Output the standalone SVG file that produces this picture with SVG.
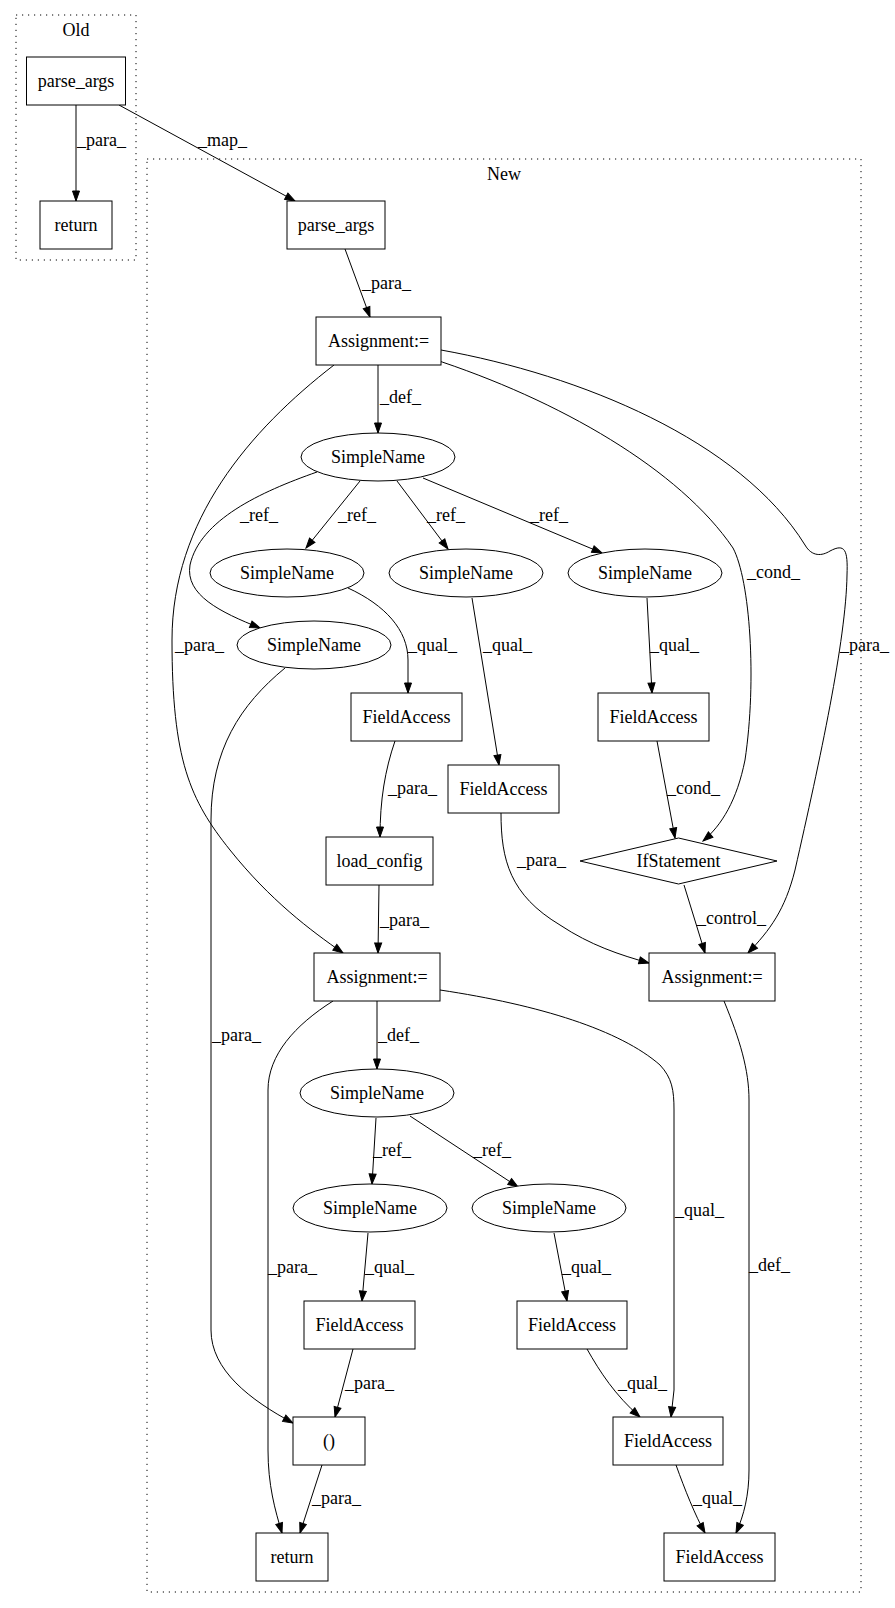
<svg xmlns="http://www.w3.org/2000/svg" width="895" height="1608" viewBox="0 0 895 1608" font-family="'Liberation Serif', 'Times New Roman', serif" font-size="18">
<style>
text{font-family:"Liberation Serif","Times New Roman",serif;font-size:18px;fill:#000}
.n{text-anchor:middle}
.box{fill:#fff;stroke:#000;stroke-width:1}
.cl{fill:none;stroke:#000;stroke-width:1;stroke-dasharray:1.2,4.8}
.e{fill:none;stroke:#000;stroke-width:1;marker-end:url(#arr)}
</style>
<defs>
<marker id="arr" markerUnits="userSpaceOnUse" markerWidth="12" markerHeight="9" refX="11" refY="4.5" orient="auto">
<path d="M1,1 L11,4.5 L1,8 z" fill="#000" stroke="#000" stroke-width="1"/>
</marker>
</defs>
<rect width="895" height="1608" fill="#fff"/>
<g id="cluster_old">
<rect class="cl" x="16" y="15" width="120" height="245"/>
<text class="n" x="76" y="36">Old</text>
</g>
<g id="cluster_new">
<rect class="cl" x="147" y="159" width="714" height="1433"/>
<text class="n" x="504" y="180">New</text>
</g>
<g id="connectors">
<path class="e" d="M76,105 L76,201"/>
<text x="77" y="146">_para_</text>
<path class="e" d="M119,105 L295,201"/>
<text x="198" y="146">_map_</text>
<path class="e" d="M345,249 L370,317"/>
<text x="362" y="289">_para_</text>
<path class="e" d="M378,365 L378,433"/>
<text x="380" y="403">_def_</text>
<path class="e" d="M334,365 C250,430 172,520 172,640 C172,760 190,800 230,850 C270,900 310,930 343,953"/>
<text x="175" y="651">_para_</text>
<path class="e" d="M430,358 C560,400 680,470 733,548 C750,580 757,680 745,760 C737,800 722,825 703,841"/>
<text x="747" y="578">_cond_</text>
<path class="e" d="M441,350 C580,375 740,440 805,545 C812,557 822,556 830,551 C845,543 848,550 847,575 C846,640 820,760 795,870 C785,910 770,930 748,953"/>
<text x="840" y="651">_para_</text>
<path class="e" d="M360,481 L306,548"/>
<text x="338" y="521">_ref_</text>
<path class="e" d="M397,481 L448,549"/>
<text x="427" y="521">_ref_</text>
<path class="e" d="M423,478 L602,553"/>
<text x="530" y="521">_ref_</text>
<path class="e" d="M317,472 C260,492 200,520 190,565 C185,595 220,612 260,628"/>
<text x="240" y="521">_ref_</text>
<path class="e" d="M348,588 C385,605 408,630 408,660 L408,693"/>
<text x="408" y="651">_qual_</text>
<path class="e" d="M472,598 L499,765"/>
<text x="483" y="651">_qual_</text>
<path class="e" d="M647,598 L652,693"/>
<text x="650" y="651">_qual_</text>
<path class="e" d="M285,668 C240,705 211,750 211,820 L211,1330 C211,1370 250,1400 293,1423"/>
<text x="212" y="1041">_para_</text>
<path class="e" d="M395,741 C385,770 380,800 380,837"/>
<text x="388" y="794">_para_</text>
<path class="e" d="M501,813 C501,860 510,895 560,925 C590,945 620,955 649,963"/>
<text x="517" y="866">_para_</text>
<path class="e" d="M657,741 L675,838"/>
<text x="667" y="794">_cond_</text>
<path class="e" d="M684,885 L705,953"/>
<text x="697" y="924">_control_</text>
<path class="e" d="M379,885 L378,953"/>
<text x="380" y="926">_para_</text>
<path class="e" d="M377,1001 L377,1069"/>
<text x="378" y="1041">_def_</text>
<path class="e" d="M333,1001 C295,1025 268,1055 268,1090 L268,1450 C268,1485 275,1510 282,1533"/>
<text x="268" y="1273">_para_</text>
<path class="e" d="M440,990 C540,1005 620,1030 660,1065 C672,1078 674,1090 674,1110 L674,1390 L671,1417"/>
<text x="675" y="1216">_qual_</text>
<path class="e" d="M724,1001 C740,1040 749,1070 749,1100 L749,1470 C749,1495 744,1515 736,1533"/>
<text x="749" y="1271">_def_</text>
<path class="e" d="M376,1118 L372,1184"/>
<text x="373" y="1156">_ref_</text>
<path class="e" d="M410,1116 L518,1187"/>
<text x="473" y="1156">_ref_</text>
<path class="e" d="M368,1233 L362,1301"/>
<text x="365" y="1273">_qual_</text>
<path class="e" d="M554,1233 L567,1301"/>
<text x="562" y="1273">_qual_</text>
<path class="e" d="M353,1349 L335,1417"/>
<text x="345" y="1389">_para_</text>
<path class="e" d="M322,1465 L300,1533"/>
<text x="312" y="1504">_para_</text>
<path class="e" d="M587,1349 C600,1372 615,1395 640,1417"/>
<text x="618" y="1389">_qual_</text>
<path class="e" d="M676,1465 C685,1490 695,1515 705,1533"/>
<text x="693" y="1504">_qual_</text>
</g>
<g id="old_parse_args"><rect class="box" x="26.5" y="57" width="99" height="48"/><text class="n" x="76" y="87">parse_args</text></g>
<g id="old_return"><rect class="box" x="40" y="201" width="72" height="48"/><text class="n" x="76" y="231">return</text></g>
<g id="new_parse_args"><rect class="box" x="287" y="201" width="98" height="48"/><text class="n" x="336" y="231">parse_args</text></g>
<g id="assign1"><rect class="box" x="316" y="317" width="125" height="48"/><text class="n" x="378.5" y="347">Assignment:=</text></g>
<g id="sn_top"><ellipse class="box" cx="378" cy="457" rx="77" ry="24"/><text class="n" x="378" y="463">SimpleName</text></g>
<g id="sn_a"><ellipse class="box" cx="287" cy="573" rx="77" ry="24"/><text class="n" x="287" y="579">SimpleName</text></g>
<g id="sn_b"><ellipse class="box" cx="466" cy="573" rx="77" ry="24"/><text class="n" x="466" y="579">SimpleName</text></g>
<g id="sn_d"><ellipse class="box" cx="645" cy="573" rx="77" ry="24"/><text class="n" x="645" y="579">SimpleName</text></g>
<g id="sn_c"><ellipse class="box" cx="314" cy="645" rx="77" ry="24"/><text class="n" x="314" y="651">SimpleName</text></g>
<g id="fa_a"><rect class="box" x="351" y="693" width="111" height="48"/><text class="n" x="406.5" y="723">FieldAccess</text></g>
<g id="fa_b"><rect class="box" x="448" y="765" width="111" height="48"/><text class="n" x="503.5" y="795">FieldAccess</text></g>
<g id="fa_c"><rect class="box" x="598" y="693" width="111" height="48"/><text class="n" x="653.5" y="723">FieldAccess</text></g>
<g id="if_stmt"><polygon class="box" points="678.5,838 777,861 678.5,884 580,861"/><text class="n" x="678.5" y="867">IfStatement</text></g>
<g id="load_config"><rect class="box" x="326" y="837" width="107" height="48"/><text class="n" x="379.5" y="867">load_config</text></g>
<g id="assign2"><rect class="box" x="314" y="953" width="126" height="48"/><text class="n" x="377" y="983">Assignment:=</text></g>
<g id="assign3"><rect class="box" x="649" y="953" width="126" height="48"/><text class="n" x="712" y="983">Assignment:=</text></g>
<g id="sn_e"><ellipse class="box" cx="377" cy="1093" rx="77" ry="24"/><text class="n" x="377" y="1099">SimpleName</text></g>
<g id="sn_f"><ellipse class="box" cx="370" cy="1208" rx="77" ry="24"/><text class="n" x="370" y="1214">SimpleName</text></g>
<g id="sn_g"><ellipse class="box" cx="549" cy="1208" rx="77" ry="24"/><text class="n" x="549" y="1214">SimpleName</text></g>
<g id="fa_d"><rect class="box" x="304" y="1301" width="111" height="48"/><text class="n" x="359.5" y="1331">FieldAccess</text></g>
<g id="fa_g"><rect class="box" x="517" y="1301" width="110" height="48"/><text class="n" x="572" y="1331">FieldAccess</text></g>
<g id="paren"><rect class="box" x="293" y="1417" width="72" height="48"/><text class="n" x="329" y="1447">()</text></g>
<g id="fa_h"><rect class="box" x="613" y="1417" width="110" height="48"/><text class="n" x="668" y="1447">FieldAccess</text></g>
<g id="new_return"><rect class="box" x="256" y="1533" width="72" height="48"/><text class="n" x="292" y="1563">return</text></g>
<g id="fa_i"><rect class="box" x="664" y="1533" width="111" height="48"/><text class="n" x="719.5" y="1563">FieldAccess</text></g>
</svg>
